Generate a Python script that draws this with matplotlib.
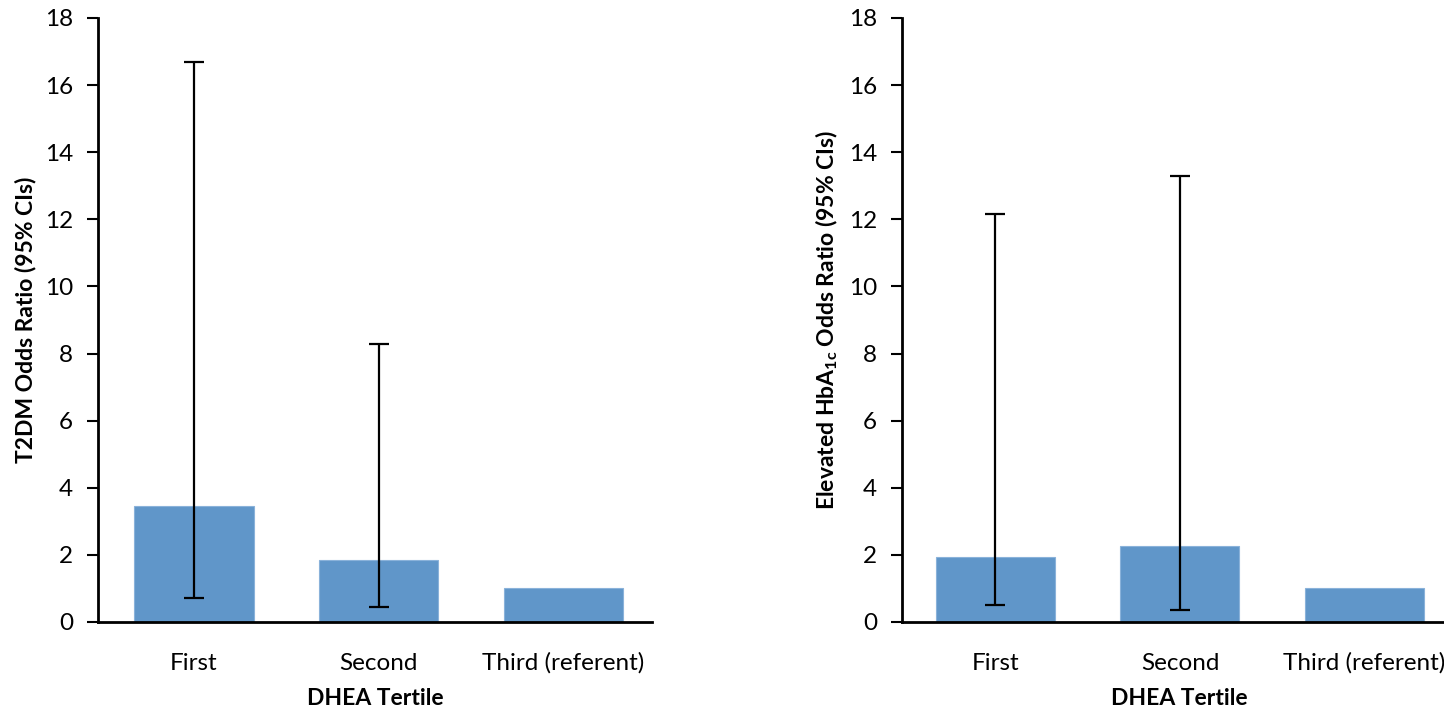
import numpy as np
import matplotlib
matplotlib.use("Agg")
from matplotlib import pyplot as plt

plt.rcParams['font.family'] = ['Lato', 'DejaVu Sans']
plt.rcParams['mathtext.fontset'] = 'custom'
plt.rcParams['mathtext.rm'] = 'Lato'
plt.rcParams['mathtext.bf'] = 'Lato:bold'

# data
categories = ['First', 'Second', 'Third (referent)']
t2dm_or = [3.46, 1.85, 1.0]
t2dm_lo = [0.72, 0.45]
t2dm_hi = [16.69, 8.28]
hba_or = [1.94, 2.26, 1.0]
hba_lo = [0.51, 0.36]
hba_hi = [12.16, 13.29]

bar_color = '#6096C9'

fig = plt.figure(figsize=(14.44, 7.12), dpi=100)
ax1 = fig.add_axes([98/1444, 90/712, 554/1444, 604/712])
ax2 = fig.add_axes([902/1444, 90/712, 554/1444, 604/712])

def draw(ax, vals, lo, hi, ylab, off):
    x = np.arange(len(vals))
    ax.bar(x, vals, width=0.645, color=bar_color, edgecolor='#8AB2DA', linewidth=0.8, zorder=2)
    n = len(lo)
    yerr = [np.array(vals[:n]) - np.array(lo), np.array(hi) - np.array(vals[:n])]
    ax.errorbar(x[:n], vals[:n], yerr=yerr, fmt='none', ecolor='black',
                elinewidth=1.6, capsize=7, capthick=1.6, zorder=3)
    ax.set_xlim(-off, len(vals) - off)
    ax.set_ylim(0, 18)
    ax.set_yticks(range(0, 19, 2))
    ax.set_xticks(x)
    ax.set_xticklabels(categories)
    ax.tick_params(axis='x', length=0, pad=22, labelsize=17.5)
    ax.tick_params(axis='y', direction='out', length=8, width=1.5, pad=10, labelsize=17.5)
    for s in ['top', 'right']:
        ax.spines[s].set_visible(False)
    for s in ['left', 'bottom']:
        ax.spines[s].set_linewidth(2)
    ax.set_xlabel('DHEA Tertile', fontsize=16.5, fontweight='bold', labelpad=10)
    ax.set_ylabel(ylab, fontsize=16.5, fontweight='bold', labelpad=6)

draw(ax1, t2dm_or, t2dm_lo, t2dm_hi, 'T2DM Odds Ratio (95% CIs)', 0.52)
draw(ax2, hba_or, hba_lo, hba_hi, r'Elevated HbA$_{\mathbf{1c}}$ Odds Ratio (95% CIs)', 0.505)

fig.savefig('out.png', dpi=100)
